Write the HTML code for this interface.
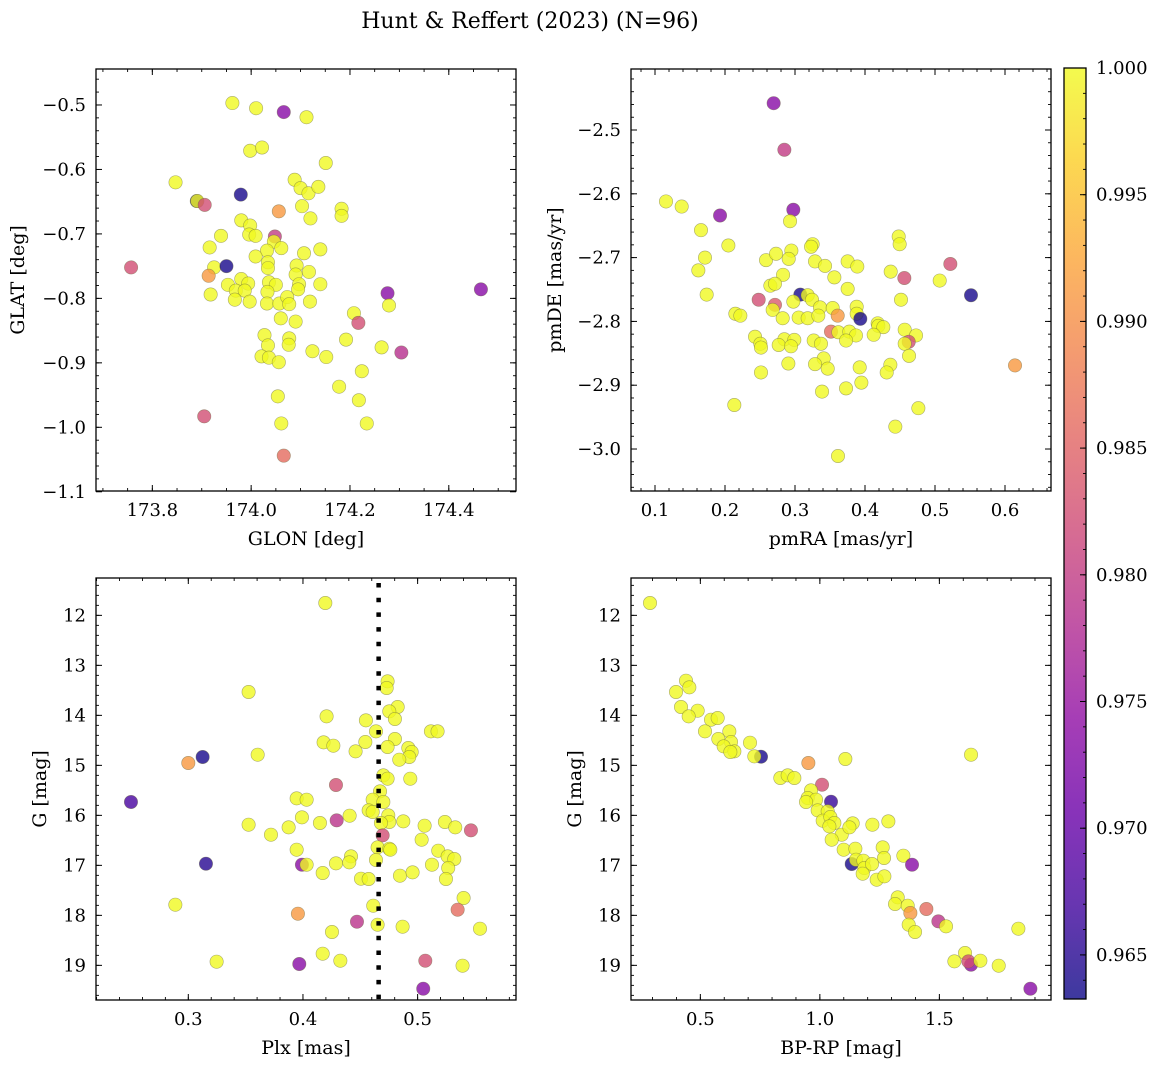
<!DOCTYPE html>
<html><head><meta charset="utf-8"><style>
html,body{margin:0;padding:0;background:#fff;}
svg{display:block;font-family:"DejaVu Serif","Liberation Serif",serif;}
</style></head><body>
<svg id="fig" width="1161" height="1068" viewBox="0 0 1161 1068" xmlns="http://www.w3.org/2000/svg">
<text x="530" y="28" font-size="22" text-anchor="middle">Hunt &amp; Reffert (2023) (N=96)</text>
</svg>
<script>
// ---- Panel 1: GLON / GLAT
const p1Lon = [173.962,174.010,174.066,174.112,173.998,174.022,174.151,173.847,173.890,173.891,173.906,173.979,174.056,174.088,174.100,174.116,174.136,174.103,174.120,174.183,174.183,173.980,173.998,173.996,174.009,174.048,174.046,173.939,173.916,174.061,174.032,174.107,174.140,174.009,174.034,174.034,174.092,174.090,174.117,173.757,173.925,173.950,173.914,173.953,173.980,173.994,173.969,173.987,174.036,174.050,174.033,174.097,174.095,174.140,173.918,173.967,173.997,174.032,174.057,174.073,174.077,174.119,174.276,174.279,174.465,174.208,174.217,174.060,174.090,174.192,174.027,174.077,174.076,174.034,174.264,174.304,174.021,174.036,174.056,174.124,174.152,174.224,174.178,174.054,174.218,173.905,174.061,174.234,174.066];
const p1Lat = [-0.497,-0.505,-0.511,-0.519,-0.571,-0.566,-0.590,-0.620,-0.649,-0.649,-0.655,-0.639,-0.665,-0.616,-0.629,-0.637,-0.627,-0.657,-0.676,-0.661,-0.672,-0.679,-0.687,-0.701,-0.703,-0.704,-0.712,-0.703,-0.721,-0.722,-0.726,-0.730,-0.724,-0.735,-0.744,-0.753,-0.749,-0.763,-0.759,-0.752,-0.752,-0.750,-0.765,-0.779,-0.770,-0.777,-0.788,-0.788,-0.775,-0.779,-0.790,-0.778,-0.786,-0.778,-0.794,-0.802,-0.805,-0.808,-0.808,-0.798,-0.809,-0.805,-0.792,-0.811,-0.786,-0.823,-0.838,-0.831,-0.836,-0.864,-0.857,-0.862,-0.872,-0.873,-0.876,-0.884,-0.890,-0.892,-0.899,-0.882,-0.891,-0.913,-0.937,-0.952,-0.958,-0.983,-0.994,-0.994,-1.044];
const p1Prob = [1,1,0.9735,1,1,1,1,1,0.964,1, 0.9825,0.964,0.991,1,1,1,1,1,1,1, 1,1,1,1,1,0.980,1,1,1,1, 1,1,1,1,1,1,1,1,1,0.9825, 1,0.964,0.991,1,1,1,1,1,1,1, 1,1,1,1,1,1,1,1,1,1, 1,1,0.9735,1,0.9735,1,0.9825,1,1,1, 1,1,1,1,1,0.9785,1,1,1,1, 1,1,1,1,1,0.9825,1,1,0.986];

// ---- Panel 2: pmRA / pmDE
const p2Ra = [0.2695,0.2848,0.1157,0.1381,0.1929,0.2976,0.2929,0.1657,0.2048,0.3252,0.3229,0.4481,0.4495,0.1714,0.1619,0.1738,0.2586,0.2729,0.2948,0.2910,0.3286,0.3429,0.3752,0.3890,0.2829,0.3562,0.4367,0.4562,0.5219,0.5067,0.5514,0.2648,0.2714,0.3752,0.3076,0.3181,0.3243,0.2976,0.2481,0.2714,0.2681,0.3357,0.3538,0.3881,0.3881,0.3610,0.3933,0.4514,0.2148,0.2219,0.2824,0.3052,0.3181,0.3333,0.4181,0.4190,0.4262,0.3514,0.3619,0.3776,0.3871,0.3729,0.4124,0.4567,0.4729,0.4624,0.4567,0.4629,0.2429,0.2505,0.2514,0.2848,0.2990,0.2767,0.2943,0.3267,0.3371,0.3410,0.3286,0.3467,0.2905,0.2514,0.3924,0.4362,0.4310,0.3948,0.3729,0.3386,0.6143,0.2133,0.4762,0.4433,0.3614];
const p2De = [-2.458,-2.531,-2.612,-2.620,-2.634,-2.625,-2.643,-2.657,-2.681,-2.679,-2.683,-2.667,-2.679,-2.700,-2.720,-2.758,-2.704,-2.694,-2.689,-2.702,-2.706,-2.713,-2.706,-2.714,-2.727,-2.731,-2.722,-2.732,-2.710,-2.736,-2.759,-2.744,-2.741,-2.749,-2.758,-2.759,-2.766,-2.769,-2.766,-2.774,-2.782,-2.778,-2.779,-2.777,-2.788,-2.791,-2.796,-2.766,-2.788,-2.791,-2.795,-2.794,-2.795,-2.791,-2.803,-2.807,-2.809,-2.816,-2.817,-2.816,-2.822,-2.830,-2.821,-2.813,-2.822,-2.832,-2.835,-2.854,-2.824,-2.835,-2.841,-2.828,-2.829,-2.837,-2.839,-2.830,-2.835,-2.858,-2.867,-2.874,-2.866,-2.880,-2.872,-2.868,-2.880,-2.896,-2.905,-2.910,-2.869,-2.931,-2.936,-2.965,-3.011];
const p2Prob = [0.9735,0.980,1,1,0.9735,0.9735,1,1,1,1, 1,1,1,1,1,1,1,1,1,1, 1,1,1,1,1,1,1,0.9825,0.9825,1, 0.964,1,1,1,0.964,1,1,1,0.9825,0.984, 1,1,1,1,1,0.991,0.964,1,1,1, 1,1,1,1,1,1,1,0.986,1,1, 1,1,1,1,1,0.9825,1,1,1,1, 1,1,1,1,1,1,1,1,1,1, 1,1,1,1,1,1,1,1,0.991,1, 1,1,1];

// ---- Panel 3: Plx / G
const p3Plx = [0.4195,0.3526,0.4738,0.4730,0.4826,0.4753,0.4802,0.4206,0.4549,0.4637,0.5116,0.5174,0.4180,0.4265,0.4544,0.4802,0.4738,0.4459,0.4919,0.4948,0.4927,0.4840,0.3605,0.3125,0.3000,0.4701,0.4738,0.4936,0.4288,0.2500,0.3945,0.4032,0.4672,0.4608,0.4701,0.4573,0.4608,0.3526,0.3721,0.3875,0.3991,0.4148,0.4294,0.4407,0.4744,0.4753,0.4680,0.4875,0.4695,0.5061,0.5238,0.5328,0.5465,0.5035,0.4651,0.4753,0.4762,0.3945,0.5180,0.5262,0.5320,0.4419,0.4404,0.4288,0.4637,0.3991,0.4032,0.3154,0.4172,0.4506,0.4573,0.4846,0.4956,0.5125,0.5267,0.5247,0.2887,0.4613,0.5401,0.5349,0.3956,0.4471,0.4651,0.4869,0.5544,0.4253,0.4172,0.4326,0.3247,0.3968,0.5067,0.5392,0.5049];
const p3G = [11.753,13.533,13.320,13.453,13.833,13.920,14.073,14.020,14.100,14.320,14.320,14.320,14.540,14.607,14.533,14.473,14.633,14.720,14.653,14.733,14.833,14.887,14.787,14.833,14.953,15.200,15.267,15.267,15.393,15.733,15.660,15.687,15.520,15.687,15.733,15.900,15.933,16.187,16.387,16.240,16.040,16.153,16.100,16.007,16.000,16.133,16.153,16.120,16.400,16.207,16.133,16.240,16.300,16.487,16.640,16.667,16.687,16.687,16.707,16.820,16.873,16.820,16.940,16.960,16.893,16.987,16.987,16.967,17.153,17.267,17.273,17.207,17.140,16.987,17.053,17.273,17.787,17.807,17.653,17.887,17.967,18.127,18.187,18.227,18.267,18.333,18.767,18.907,18.927,18.973,18.907,19.007,19.467];
const p3Prob = [1,1,1,1,1,1,1,1,1,1, 1,1,1,1,1,1,1,1,1,1, 1,1,1,0.964,0.991,1,1,1,0.9825,0.9675, 1,1,1,1,1,1,1,1,1,1, 1,1,0.979,1,1,1,1,1,0.9825,1, 1,1,0.9825,1,1,1,1,1,1,1, 1,1,1,1,1,0.9735,1,0.965,1,1, 1,1,1,1,1,1,1,1,1,0.986, 0.991,0.979,1,1,1,1,1,1,1,0.9735, 0.9825,1,0.9735];
const p3PlxLine = [0.466];

// ---- Panel 4: BP-RP / G
const p4Col = [0.2894,0.4400,0.4540,0.3982,0.4191,0.4888,0.4512,0.5446,0.5725,0.5195,0.6213,0.5753,0.6283,0.5976,0.6423,0.6255,0.7078,0.7538,0.7259,0.9519,1.1067,1.6325,0.8347,0.8654,0.8933,1.0091,0.9630,0.9491,0.9840,0.9421,1.0467,0.9909,1.0328,1.0119,1.0439,1.0607,1.0398,1.0914,1.0495,1.1374,1.1235,1.2197,1.2866,1.0997,1.1485,1.2629,1.2685,1.1332,1.1513,1.1820,1.1862,1.2183,1.1792,1.2378,1.2699,1.3494,1.3856,1.3257,1.3145,1.3675,1.3787,1.4456,1.4958,1.5279,1.3717,1.3982,1.8305,1.5628,1.6074,1.6325,1.6213,1.6715,1.7483,1.8808];
const p4G = [11.753,13.307,13.440,13.533,13.833,13.907,14.020,14.087,14.053,14.320,14.320,14.473,14.533,14.620,14.720,14.733,14.547,14.827,14.820,14.953,14.873,14.787,15.253,15.200,15.253,15.387,15.500,15.653,15.687,15.733,15.727,15.900,15.920,16.107,16.033,16.153,16.220,16.387,16.487,16.160,16.240,16.187,16.120,16.687,16.667,16.640,16.853,16.973,16.887,16.907,17.053,16.973,17.167,17.287,17.220,16.807,16.987,17.640,17.773,17.807,17.953,17.873,18.120,18.220,18.187,18.333,18.267,18.920,18.753,18.987,18.920,18.907,19.007,19.467];
const p4Prob = [1,1,1,1,1,1,1,1,1,1, 1,1,1,1,1,1,1,0.964,1,0.991, 1,1,1,1,1,0.9825,1,1,1,1, 0.966,1,1,1,1,1,1,1,1,1, 1,1,1,1,1,1,1,0.964,1,1, 1,1,1,1,1,1,0.9735,1,1,1, 0.991,0.986,0.979,1,1,1,1,1,1,0.9735, 0.9825,1,1,0.9735];

// ---- Colorbar
const cbarTicks = [0.965,0.970,0.975,0.980,0.985,0.990,0.995,1.000];
const cbarMin = 0.96326, cbarMax = 1.0;

const NS = "http://www.w3.org/2000/svg";
const svg = document.getElementById('fig');
function mk(tag, attrs, parent){
  const e = document.createElementNS(NS, tag);
  for (const k in attrs) e.setAttribute(k, attrs[k]);
  (parent||svg).appendChild(e);
  return e;
}
const plasmaStops = ["#0d0887","#41049d","#6a00a8","#8f0da4","#b12a90","#cc4778","#e16462","#f2844b","#fca636","#fcce25","#f0f921"];
function hex2rgb(h){return [parseInt(h.substr(1,2),16),parseInt(h.substr(3,2),16),parseInt(h.substr(5,2),16)];}
function plasma(t){
  t=Math.max(0,Math.min(1,t));
  const s=t*10, i=Math.min(9,Math.floor(s)), f=s-i;
  const a=hex2rgb(plasmaStops[i]), b=hex2rgb(plasmaStops[i+1]);
  return "rgb("+a.map((v,j)=>Math.round(v+(b[j]-v)*f)).join(",")+")";
}
function probColor(p){return plasma((p-cbarMin)/(cbarMax-cbarMin));}
function fmt(v,d){const s=v.toFixed(d);return s.replace("-","\u2212");}

const TICK_FS = 18, TITLE_FS = 19;

function makePanel(cfg){
  const g = mk('g', {});
  
  
  const sx = v => cfg.x0 + (v-cfg.xmin)/(cfg.xmax-cfg.xmin)*cfg.w;
  const sy = cfg.invert
    ? (v => cfg.y0 + (v-cfg.ymin)/(cfg.ymax-cfg.ymin)*cfg.h)
    : (v => cfg.y0 + (cfg.ymax-v)/(cfg.ymax-cfg.ymin)*cfg.h);
  const clip = mk('clipPath', {id: cfg.name+'-clip'}, g);
  mk('rect', {x:cfg.x0, y:cfg.y0, width:cfg.w, height:cfg.h}, clip);
  const pts = mk('g', {'clip-path':'url(#'+cfg.name+'-clip)'}, g);
  
  
  for (let i=0;i<cfg.xs.length;i++){
    const c = mk('circle', {cx:sx(cfg.xs[i]), cy:sy(cfg.ys[i]), r:6.7, fill:probColor(cfg.ps[i]), 'fill-opacity':0.8, stroke:'#6a6a40','stroke-opacity':0.55,'stroke-width':0.6}, pts);
    
    
  }
  if (cfg.vline){
    cfg.vline.forEach(v=>{
      const l = mk('line', {x1:sx(v), x2:sx(v), y1:cfg.y0+5, y2:cfg.y0+cfg.h, stroke:'#000','stroke-width':4.5,'stroke-dasharray':'4.5 10.2'}, pts);
      
      
    });
  }
  const fr = mk('rect', {x:cfg.x0, y:cfg.y0, width:cfg.w, height:cfg.h, fill:'none', stroke:'#000','stroke-width':1.3}, g);
  
  
  const xb = cfg.y0+cfg.h, yb = cfg.y0;
  const eps=1e-9;
  for (let v=Math.ceil((cfg.xmin)/cfg.xminor-eps)*cfg.xminor; v<=cfg.xmax+eps; v+=cfg.xminor){
    const X=sx(v);
    mk('line',{x1:X,x2:X,y1:xb,y2:xb-3,stroke:'#000','stroke-width':0.9},g);
    mk('line',{x1:X,x2:X,y1:yb,y2:yb+3,stroke:'#000','stroke-width':0.9},g);
  }
  cfg.xt.forEach(v=>{
    const X=sx(v);
    mk('line',{x1:X,x2:X,y1:xb,y2:xb-6,stroke:'#000','stroke-width':1},g);
    mk('line',{x1:X,x2:X,y1:yb,y2:yb+6,stroke:'#000','stroke-width':1},g);
    const t=mk('text',{x:X,y:xb+25,'font-size':TICK_FS,'text-anchor':'middle'},g);
    t.textContent=fmt(v,cfg.xd);
    
    
  });
  const xl = cfg.x0, xr = cfg.x0+cfg.w;
  for (let v=Math.ceil((Math.min(cfg.ymin,cfg.ymax))/cfg.yminor-eps)*cfg.yminor; v<=Math.max(cfg.ymin,cfg.ymax)+eps; v+=cfg.yminor){
    const Y=sy(v);
    mk('line',{x1:xl,x2:xl+3,y1:Y,y2:Y,stroke:'#000','stroke-width':0.9},g);
    mk('line',{x1:xr,x2:xr-3,y1:Y,y2:Y,stroke:'#000','stroke-width':0.9},g);
  }
  cfg.yt.forEach(v=>{
    const Y=sy(v);
    mk('line',{x1:xl,x2:xl+6,y1:Y,y2:Y,stroke:'#000','stroke-width':1},g);
    mk('line',{x1:xr,x2:xr-6,y1:Y,y2:Y,stroke:'#000','stroke-width':1},g);
    const t=mk('text',{x:xl-10,y:Y+6,'font-size':TICK_FS,'text-anchor':'end'},g);
    t.textContent=fmt(v,cfg.yd);
    
    
  });
  const xt=mk('text',{x:cfg.x0+cfg.w/2,y:xb+54,'font-size':TITLE_FS,'text-anchor':'middle'},g);
  xt.textContent=cfg.xlabel;
  
  
  const yt=mk('text',{x:0,y:0,'font-size':TITLE_FS,'text-anchor':'middle',transform:'translate('+cfg.ylx+','+(cfg.y0+cfg.h/2)+') rotate(-90)'},g);
  yt.textContent=cfg.ylabel;
  
  
}

makePanel({name:'glon-glat-panel',x0:96,y0:69,w:420,h:422,xmin:173.686,xmax:174.536,ymin:-1.0988,ymax:-0.4442,
  xs:p1Lon,ys:p1Lat,ps:p1Prob,xt:[173.8,174.0,174.2,174.4],xd:1,xminor:0.05,yt:[-0.5,-0.6,-0.7,-0.8,-0.9,-1.0,-1.1],yd:1,yminor:0.02,
  xlabel:'GLON [deg]',ylabel:'GLAT [deg]',ylx:24});
makePanel({name:'pm-panel',x0:631,y0:69,w:420,h:422,xmin:0.0657,xmax:0.6657,ymin:-3.0658,ymax:-2.4044,
  xs:p2Ra,ys:p2De,ps:p2Prob,xt:[0.1,0.2,0.3,0.4,0.5,0.6],xd:1,xminor:0.02,yt:[-2.5,-2.6,-2.7,-2.8,-2.9,-3.0],yd:1,yminor:0.02,
  xlabel:'pmRA [mas/yr]',ylabel:'pmDE [mas/yr]',ylx:561});
makePanel({name:'plx-g-panel',x0:96,y0:578,w:420,h:422,xmin:0.2195,xmax:0.5858,ymin:11.253,ymax:19.693,invert:true,
  xs:p3Plx,ys:p3G,ps:p3Prob,xt:[0.3,0.4,0.5],xd:1,xminor:0.02,yt:[12,13,14,15,16,17,18,19],yd:0,yminor:0.2,
  xlabel:'Plx [mas]',ylabel:'G [mag]',ylx:46,vline:p3PlxLine});
makePanel({name:'cmd-panel',x0:631,y0:578,w:420,h:422,xmin:0.2099,xmax:1.967,ymin:11.253,ymax:19.693,invert:true,
  xs:p4Col,ys:p4G,ps:p4Prob,xt:[0.5,1.0,1.5],xd:1,xminor:0.1,yt:[12,13,14,15,16,17,18,19],yd:0,yminor:0.2,
  xlabel:'BP-RP [mag]',ylabel:'G [mag]',ylx:581});

(function(){
  const cx=1064, cy=68, cw=22, ch=931;
  const g = mk('g',{});
  
  
  const defs = mk('defs',{},g);
  const lg = mk('linearGradient',{id:'cbgrad',x1:0,y1:1,x2:0,y2:0},defs);
  for(let i=0;i<=20;i++){mk('stop',{offset:(i/20),'stop-color':plasma(i/20)},lg);}
  mk('rect',{x:cx,y:cy,width:cw,height:ch,fill:'url(#cbgrad)','fill-opacity':0.8},g);
  mk('rect',{x:cx,y:cy,width:cw,height:ch,fill:'none',stroke:'#000','stroke-width':1.3},g);
  const sy=v=>cy+ch-(v-cbarMin)/(cbarMax-cbarMin)*ch;
  for(let v=0.964; v<=1.00001; v+=0.001){
    const Y=sy(v);
    mk('line',{x1:cx+cw,x2:cx+cw-3,y1:Y,y2:Y,stroke:'#000','stroke-width':0.9},g);
  }
  cbarTicks.forEach(v=>{
    const Y=sy(v);
    mk('line',{x1:cx+cw,x2:cx+cw-6,y1:Y,y2:Y,stroke:'#000','stroke-width':1},g);
    const t=mk('text',{x:cx+cw+10,y:Y+6,'font-size':TICK_FS},g);
    t.textContent=v.toFixed(3);
    
    
  });
})();
</script>
</body></html>
